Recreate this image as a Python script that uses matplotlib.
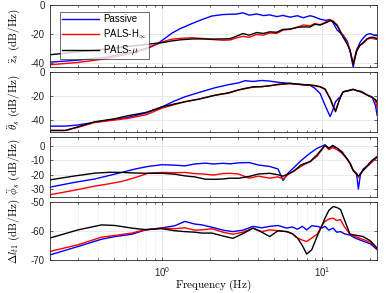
import numpy as np
import matplotlib
matplotlib.use('Agg')
import matplotlib.pyplot as plt
from matplotlib.ticker import LogLocator, NullFormatter

plt.rcParams['font.family'] = ['Liberation Sans', 'DejaVu Sans']
plt.rcParams['mathtext.fontset'] = 'cm'

# ---- data (frequency in Hz, PSD in dB/Hz) ----
f_z = [0.2, 0.3, 0.45, 0.65, 0.8, 0.94, 1.05, 1.15, 1.3, 1.54, 1.8, 2.05, 2.4, 2.66, 2.9, 3.2, 3.5,
       3.9, 4.3, 4.7, 5.2, 5.7, 6.3, 7.0, 7.6, 8.4, 9.0, 9.7, 10.5, 11.2, 11.7, 12.4, 13.5, 14.3,
       14.9, 15.6, 16.4, 17.2, 18, 19, 20, 21, 22]
z_passive = [-39.6, -38.2, -36.2, -32.8, -30, -26.8, -23, -19.7, -16.5, -13, -10, -7.8, -6.8, -6.6,
             -6.5, -5.6, -7.2, -6.4, -7.5, -7.0, -8.2, -7.4, -8.6, -7.6, -9.0, -7.6, -8.5, -10.0,
             -10.8, -10.2, -12.5, -17.6, -21, -25, -31.5, -43, -31, -26, -23, -20.5, -20, -21, -21.5]
z_hinf = [-41.4, -39.8, -37.2, -33.3, -30.5, -27, -25, -23.8, -23.2, -22.8, -23.3, -24, -24.5, -24.3,
          -23, -21.8, -22.5, -20.5, -21, -19.5, -19.8, -17.5, -17, -15.5, -14, -14.5, -13, -13.8,
          -12, -10.5, -11.5, -14, -22, -26, -31.5, -40.5, -31, -28, -26.7, -24, -23, -23.5, -24]
z_mu = [-34.5, -32.5, -30.5, -28.5, -27.3, -26.5, -25.8, -25, -24.2, -23.6, -23.6, -23.7, -23.6,
        -23.4, -21.8, -19.9, -21, -19.2, -19.8, -18.7, -19, -17, -16.8, -15.6, -15.3, -15.4, -13.5,
        -14, -12.5, -11, -11.5, -14.5, -22.4, -27, -31.5, -41, -32, -28, -26.2, -23.5, -22.5, -22.5,
        -23.5]

f_th = [0.2, 0.25, 0.3, 0.38, 0.5, 0.61, 0.8, 1.0, 1.2, 1.39, 1.7, 2.15, 2.6, 3.0, 3.3, 3.7, 4.2,
        4.7, 5.3, 6.3, 7.0, 7.6, 8.4, 9.0, 9.7, 10.4, 11.2, 11.6, 12.1, 12.6, 13.0, 13.5, 14.3, 15.6,
        16.5, 17.5, 19, 20.5, 21.5, 22]
th_passive = [-45, -45, -44, -41.8, -39.5, -37.8, -34, -29, -24, -20.6, -17, -13, -10.5, -9, -7.2,
              -7.8, -7.0, -7.5, -8.5, -9.4, -10, -10.5, -11, -13.5, -17.8, -27.5, -37, -32, -24.7,
              -22, -20.6, -16.4, -15.5, -14.4, -15.5, -16, -19, -21, -28, -36]
th_hinf = [-48.6, -48.6, -46, -42, -40, -38.6, -35.5, -30, -27, -24.7, -22.5, -19.3, -17.5, -15,
           -13.5, -12.7, -12, -11.4, -10.5, -9.6, -10.2, -10.6, -10.8, -11.5, -12.3, -14.5, -22,
           -28, -32, -26, -20.6, -16.4, -15.8, -14.4, -15.5, -16.5, -19, -21, -24, -30]
th_mu = [-48.6, -48.6, -45.5, -41.4, -39, -36.4, -33.5, -29, -26.5, -24.7, -22.5, -19.2, -17.3,
         -14.8, -13.8, -12.2, -12.2, -11.4, -10.2, -9.4, -10.0, -10.4, -10.8, -11.2, -12.2, -14,
         -22, -27, -33, -25.5, -20.6, -16.4, -15.8, -14.4, -15.5, -16.5, -19, -21, -23, -25]

f_ph = [0.2, 0.28, 0.38, 0.47, 0.56, 0.68, 0.82, 1.0, 1.2, 1.39, 1.6, 1.86, 2.1, 2.4, 2.66, 3.0,
        3.5, 4.0, 4.7, 5.3, 5.7, 6.1, 6.6, 7.4, 8.4, 9.3, 10.4, 11.0, 11.6, 12.4, 13.3, 14.3, 14.9,
        15.6, 16.4, 16.8, 17.3, 18, 19, 20.5, 22]
ph_passive = [-28.7, -25.5, -23, -20.5, -18.4, -16, -14.2, -13, -13.3, -13.8, -12.5, -11.9, -12.5,
              -12.0, -12.4, -11.7, -11.5, -13.2, -14.2, -16, -24, -19, -15.4, -10, -4.9, -1.5, 0.9,
              -1.5, 0, -1.4, -4, -9, -12, -17, -20, -30, -20, -16, -14, -10, -7.3]
ph_hinf = [-34, -31, -28, -26.3, -24.7, -22, -19, -18.4, -18.6, -18.4, -19.2, -19.6, -20.2, -19.2,
           -19, -19.5, -22.4, -21, -22.4, -21.5, -23, -20, -17.7, -14, -10.8, -7, 0.5, -2.5, -1,
           -2.5, -5, -9, -12, -17, -19, -22, -19, -17, -14.5, -11, -8]
ph_mu = [-23.6, -21, -18.9, -18.3, -18.4, -18.8, -19, -19, -19.6, -20.8, -21.5, -23.1, -23.2, -23,
         -22.4, -22.5, -21.2, -19.5, -19, -20, -21, -19.5, -17.7, -13, -10.8, -6, 0.6, -1.5, 0.5,
         -1.4, -4.5, -9, -12, -17, -19.5, -21, -19.5, -17, -14, -10, -7.5]

f_dl = [0.2, 0.3, 0.42, 0.51, 0.65, 0.78, 1.0, 1.2, 1.39, 1.6, 1.78, 2.05, 2.4, 2.77, 3.2, 3.7,
        4.2, 4.7, 5.3, 6.0, 6.5, 7.0, 7.5, 8.0, 8.6, 9.3, 10.0, 10.4, 11.0, 11.7, 12.3, 13.0, 13.7,
        14.9, 16, 18, 20, 22]
dl_passive = [-68.3, -65.4, -62.9, -62, -61.2, -59.8, -59, -58.3, -56.8, -57.7, -58, -58.8, -59.8,
              -60.3, -59.8, -58.5, -59, -58.5, -58.2, -59.1, -58.7, -59.5, -58.5, -59.7, -58.3,
              -58.5, -59, -58.5, -59.8, -59.1, -60.5, -60.3, -61, -61.5, -62.5, -63.6, -64.5, -66.5]
dl_hinf = [-67.1, -64.8, -62.2, -61.6, -60.8, -59.7, -59.1, -59.3, -59, -59.8, -59.7, -59.3, -60.5,
           -61.2, -60.5, -59.1, -60.3, -59.7, -60, -60.3, -61, -62.5, -63.2, -63.7, -62.5, -61.2,
           -58, -56.8, -56, -55.7, -56.5, -56.2, -58.5, -61.2, -62, -63, -64, -66]
dl_mu = [-62.5, -59.7, -58, -58.2, -59.1, -59.6, -59.3, -60, -60.3, -60.5, -60.8, -60.8, -61.8,
         -62.6, -61, -59.1, -60.5, -62, -60, -60.3, -61, -62.5, -65, -68, -66.5, -61.9, -58, -55.7,
         -53, -51.7, -52, -52.7, -56, -61.2, -61.5, -62, -63.5, -66]

labels = ['Passive', r'PALS-H$_\infty$', r'PALS-$\mu$']
colors = ['#0000ff', '#ff0000', '#000000']

panels = [
    (f_z, [z_passive, z_hinf, z_mu], r'$\ddot{z}_s\ \mathrm{(dB/Hz)}$', (-43, 0), [-40, -20, 0]),
    (f_th, [th_passive, th_hinf, th_mu], r'$\ddot{\theta}_s\ \mathrm{(dB/Hz)}$', (-50, 0), [-40, -20, 0]),
    (f_ph, [ph_passive, ph_hinf, ph_mu], r'$\ddot{\phi}_s\ \mathrm{(dB/Hz)}$', (-35.5, 6.5), [-30, -20, -10, 0]),
    (f_dl, [dl_passive, dl_hinf, dl_mu], r'$\Delta l_{t1}\ \mathrm{(dB/Hz)}$', (-70, -50), [-70, -60, -50]),
]

# axes boxes in figure fractions: left, bottom, width, height
boxes = [
    (0.128, 0.771, 0.839, 0.213),
    (0.128, 0.549, 0.839, 0.205),
    (0.128, 0.328, 0.839, 0.205),
    (0.128, 0.113, 0.839, 0.199),
]

fig = plt.figure(figsize=(3.9, 2.93), dpi=100)
axs = []
for i, (f, series, ylab, ylim, yt) in enumerate(panels):
    ax = fig.add_axes(boxes[i])
    for s, c, lab in zip(series, colors, labels):
        ax.plot(f, s, color=c, lw=1.0, label=lab)
    ax.set_xscale('log')
    ax.set_xlim(0.2, 22)
    ax.set_ylim(*ylim)
    ax.set_yticks(yt)
    ax.set_yticklabels([str(v) for v in yt])
    ax.xaxis.set_major_locator(LogLocator(base=10))
    ax.xaxis.set_minor_locator(LogLocator(base=10, subs=np.arange(2, 10)))
    ax.xaxis.set_minor_formatter(NullFormatter())
    ax.tick_params(which='both', direction='in', top=True, right=True, labelsize=7,
                   colors='#262626', length=2.5, width=0.5)
    ax.tick_params(which='minor', length=1.5)
    ax.grid(True, axis='y', color='#e6e6e6', lw=0.6)
    ax.grid(True, axis='x', which='major', color='#e6e6e6', lw=0.6)
    if i == 3:
        ax.grid(True, axis='x', which='minor', color='#d9d9d9', lw=0.5, ls=':')
    ax.set_axisbelow(True)
    for sp in ax.spines.values():
        sp.set_color('#262626')
        sp.set_linewidth(0.6)
    ax.set_ylabel(ylab, fontsize=8, labelpad=1)
    ax.yaxis.set_label_coords(-0.085, 0.5)
    if i < 3:
        ax.tick_params(labelbottom=False)
    axs.append(ax)

axs[3].set_xlabel(r'$\mathrm{Frequency\ (Hz)}$', fontsize=8)
axs[3].xaxis.set_label_coords(0.5, -0.3)
axs[0].legend(loc='upper left', fontsize=7, handlelength=3.8, frameon=True, fancybox=False,
              edgecolor='#262626', borderpad=0.25, labelspacing=0.25, handletextpad=0.4,
              bbox_to_anchor=(0.015, 0.96)).get_frame().set_linewidth(0.6)

fig.savefig('out.png', dpi=100)
